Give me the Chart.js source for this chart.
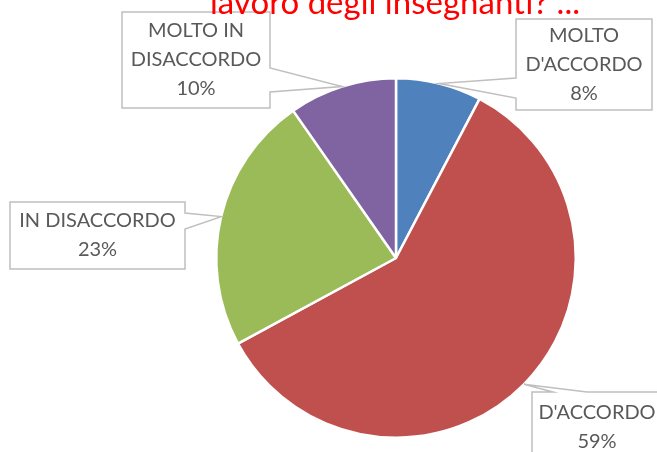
<!DOCTYPE html>
<html>
<head>
<meta charset="utf-8">
<script src="https://cdn.jsdelivr.net/npm/chart.js@4"></script>
<style>
  body { margin: 0; background: #fff; }
</style>
</head>
<body>
<canvas id="canvas" width="657" height="452"></canvas>
<script>
// data
const categories = ["MOLTO D'ACCORDO", "D'ACCORDO", "IN DISACCORDO", "MOLTO IN DISACCORDO"];
const values = [7.7, 59.4, 23.2, 9.7];
const colors = ["#4f81bd", "#c0504d", "#9bbb59", "#8064a2"];
const titleText = "lavoro degli insegnanti? ...";

// where the callout boxes sit (layout only)
const boxes = [
  { x: 516, y: 19, w: 136, h: 91, side: "left", b0: 78, b1: 98 },
  { x: 532, y: 392, w: 130, h: 70, side: "top", b0: 553, b1: 587 },
  { x: 10, y: 202, w: 175, h: 67, side: "right", b0: 213, b1: 229 },
  { x: 122, y: 12, w: 148, h: 96, side: "right", b0: 68, b1: 92 }
];

const labelFont = "20px Lato";
const lineGap = 29;

function wrap(ctx, text, maxW) {
  const words = text.split(" ");
  let lines = [], cur = "";
  words.forEach(w => {
    const t = cur ? cur + " " + w : w;
    if (ctx.measureText(t).width > maxW && cur) {
      lines.push(cur);
      cur = w;
    } else cur = t;
  });
  lines.push(cur);
  return lines;
}

const titlePlugin = {
  id: "cutTitle",
  afterDraw(chart) {
    const ctx = chart.ctx;
    ctx.save();
    ctx.fillStyle = "#ff0000";
    ctx.font = "33px Lato";
    ctx.textAlign = "center";
    ctx.textBaseline = "alphabetic";
    ctx.fillText(titleText, 395, 14);
    ctx.restore();
  }
};

const calloutPlugin = {
  id: "callouts",
  afterDatasetsDraw(chart) {
    const ctx = chart.ctx;
    const meta = chart.getDatasetMeta(0);
    const total = values.reduce((a, b) => a + b, 0);
    meta.data.forEach((arc, i) => {
      const p = arc.getProps(["x", "y", "startAngle", "endAngle", "outerRadius"], true);
      const mid = (p.startAngle + p.endAngle) / 2;
      const tx = p.x + Math.cos(mid) * p.outerRadius;
      const ty = p.y + Math.sin(mid) * p.outerRadius;
      const b = boxes[i];

      ctx.save();
      ctx.beginPath();
      if (b.side === "right") {
        ctx.moveTo(b.x, b.y);
        ctx.lineTo(b.x + b.w, b.y);
        ctx.lineTo(b.x + b.w, b.b0);
        ctx.lineTo(tx, ty);
        ctx.lineTo(b.x + b.w, b.b1);
        ctx.lineTo(b.x + b.w, b.y + b.h);
        ctx.lineTo(b.x, b.y + b.h);
      } else if (b.side === "left") {
        ctx.moveTo(b.x, b.y);
        ctx.lineTo(b.x + b.w, b.y);
        ctx.lineTo(b.x + b.w, b.y + b.h);
        ctx.lineTo(b.x, b.y + b.h);
        ctx.lineTo(b.x, b.b1);
        ctx.lineTo(tx, ty);
        ctx.lineTo(b.x, b.b0);
      } else {
        ctx.moveTo(b.x, b.y);
        ctx.lineTo(b.b0, b.y);
        ctx.lineTo(tx, ty);
        ctx.lineTo(b.b1, b.y);
        ctx.lineTo(b.x + b.w, b.y);
        ctx.lineTo(b.x + b.w, b.y + b.h);
        ctx.lineTo(b.x, b.y + b.h);
      }
      ctx.closePath();
      ctx.fillStyle = "#ffffff";
      ctx.fill();
      ctx.strokeStyle = "#bfbfbf";
      ctx.lineWidth = 1.5;
      ctx.stroke();

      ctx.font = labelFont;
      ctx.fillStyle = "#595959";
      ctx.textAlign = "center";
      ctx.textBaseline = "middle";
      const lines = wrap(ctx, categories[i], b.w - 10);
      lines.push(Math.round(values[i] / total * 100) + "%");
      let cx = b.x + b.w / 2;
      if (b.side === "top") cx = 597;
      const cy = b.side === "top" ? 413 + (lines.length - 1) * lineGap / 2 : b.y + b.h / 2;
      const y0 = cy - (lines.length - 1) * lineGap / 2;
      lines.forEach((l, k) => ctx.fillText(l, cx, y0 + k * lineGap));
      ctx.restore();
    });
  }
};

const ctx = document.getElementById("canvas");
const myChart = new Chart(ctx, {
  type: "pie",
  data: {
    labels: categories,
    datasets: [{
      data: values,
      backgroundColor: colors,
      borderColor: "#ffffff",
      borderWidth: 2.5
    }]
  },
  options: {
    responsive: false,
    animation: false,
    layout: {
      padding: { top: 77, bottom: 13, left: 215, right: 80 }
    },
    plugins: {
      legend: { display: false },
      tooltip: { enabled: false }
    }
  },
  plugins: [calloutPlugin, titlePlugin]
});
</script>
</body>
</html>
